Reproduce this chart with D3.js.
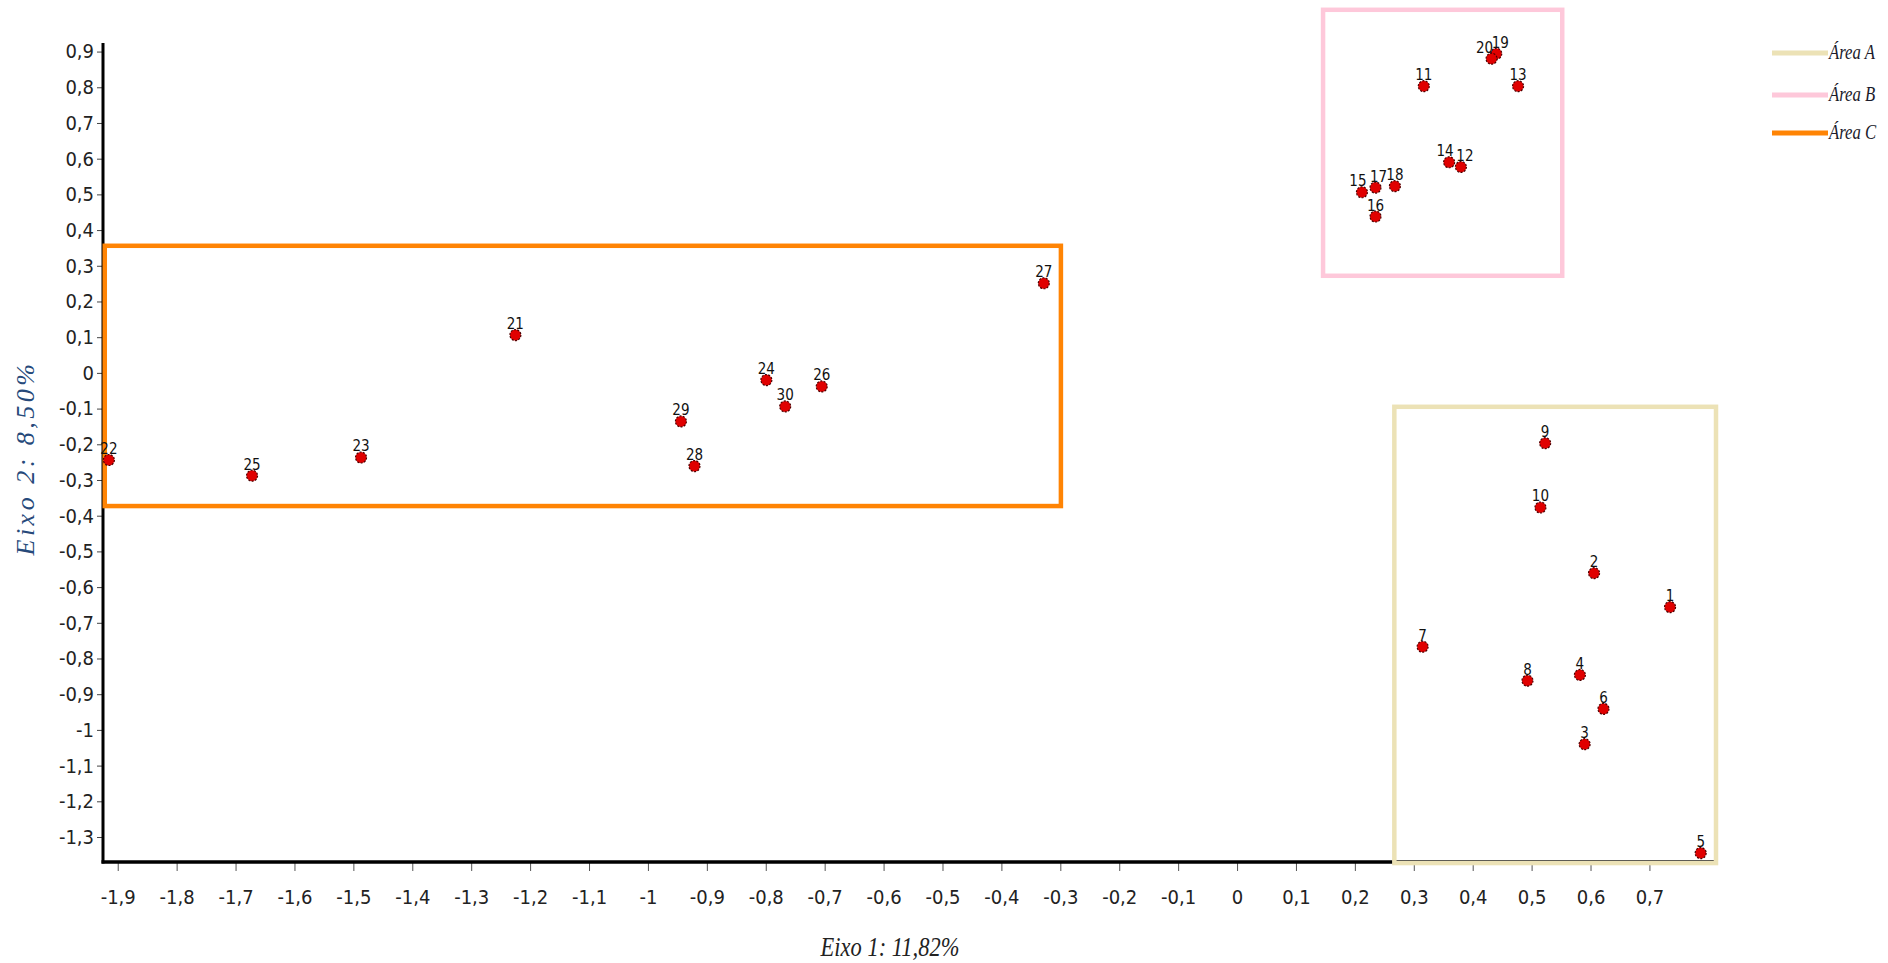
<!DOCTYPE html>
<html>
<head>
<meta charset="utf-8">
<script src="https://cdn.jsdelivr.net/npm/d3@7"></script>
<style>
  html, body { margin: 0; padding: 0; background: #fff; }
  svg { display: block; }
  .narrow { font-family: "Liberation Sans Narrow", "Arial Narrow", "DejaVu Sans Condensed", sans-serif; }
  .serif { font-family: "Liberation Serif", "Times New Roman", serif; font-style: italic; }
</style>
</head>
<body>
<svg id="chart" width="1888" height="963"></svg>
<script>
// ---- DATA ----
const pointIds = [1,2,3,4,5,6,7,8,9,10,11,12,13,14,15,16,17,18,19,20,21,22,23,24,25,26,27,28,29,30];
const eixo1 = [0.735,0.606,0.590,0.582,0.787,0.622,0.315,0.493,0.523,0.515,
               0.317,0.380,0.477,0.360,0.212,0.235,0.235,0.268,0.440,0.432,
               -1.225,-1.915,-1.487,-0.799,-1.672,-0.705,-0.328,-0.921,-0.944,-0.767];
const eixo2 = [-0.656,-0.561,-1.040,-0.846,-1.345,-0.941,-0.767,-0.862,-0.197,-0.377,
               0.803,0.577,0.803,0.590,0.506,0.438,0.519,0.523,0.894,0.880,
               0.106,-0.244,-0.237,-0.020,-0.288,-0.038,0.251,-0.261,-0.136,-0.094];

const areaNames  = ["Área A", "Área B", "Área C"];
const areaLeft   = [0.267, 0.146, -1.922];
const areaRight  = [0.813, 0.552, -0.299];
const areaTop    = [-0.095, 1.017, 0.356];
const areaBottom = [-1.373, 0.272, -0.373];
const areaColors = ["#ece2b6", "#fec8da", "#ff8404"];

const xTicks = [-1.9,-1.8,-1.7,-1.6,-1.5,-1.4,-1.3,-1.2,-1.1,-1,-0.9,-0.8,-0.7,-0.6,-0.5,-0.4,-0.3,-0.2,-0.1,0,0.1,0.2,0.3,0.4,0.5,0.6,0.7];
const yTicks = [0.9,0.8,0.7,0.6,0.5,0.4,0.3,0.2,0.1,0,-0.1,-0.2,-0.3,-0.4,-0.5,-0.6,-0.7,-0.8,-0.9,-1,-1.1,-1.2,-1.3];

const xTitle = "Eixo 1: 11,82%";
const yTitle = "Eixo 2: 8,50%";

// label nudges (style only) to keep crowded labels readable
const labelNudge = {20: -7, 19: 4, 14: -4, 12: 4, 15: -4, 17: 3};

// ---- CHART ----
const svg = d3.select("#chart");
const x = d3.scaleLinear().domain([-1.925, 0.813]).range([103, 1716]);
const y = d3.scaleLinear().domain([0.924, -1.370]).range([43, 862]);

const locale = d3.formatLocale({decimal: ",", thousands: ".", grouping: [3], currency: ["", ""], minus: "-"});
const fmt = locale.format(".1~f");

// Y axis
const gy = svg.append("g").attr("transform", `translate(${x.range()[0]},0)`)
  .call(d3.axisLeft(y).tickValues(yTicks).tickSize(6).tickPadding(3).tickFormat(fmt));
gy.select(".domain").remove();
gy.selectAll(".tick line").attr("stroke", "#444");
gy.selectAll(".tick text").attr("class", "narrow").attr("font-size", 20).attr("fill", "#222");
svg.append("line")
  .attr("x1", x.range()[0]).attr("x2", x.range()[0])
  .attr("y1", y.range()[0]).attr("y2", y.range()[1] + 1.5)
  .attr("stroke", "#000").attr("stroke-width", 3);

// X axis
const gx = svg.append("g").attr("transform", `translate(0,${y.range()[1]})`)
  .call(d3.axisBottom(x).tickValues(xTicks).tickSize(9).tickPadding(19).tickFormat(fmt));
gx.select(".domain").remove();
gx.selectAll(".tick line").attr("stroke", "#555");
gx.selectAll(".tick text").attr("class", "narrow").attr("font-size", 20).attr("fill", "#222");
svg.append("line")
  .attr("x1", x.range()[0] - 1.5).attr("x2", x.range()[1])
  .attr("y1", y.range()[1]).attr("y2", y.range()[1])
  .attr("stroke", "#000").attr("stroke-width", 3.5);

// Axis titles
svg.append("text").attr("class", "serif")
  .attr("transform", "translate(890,956) scale(0.9,1.1)")
  .attr("text-anchor", "middle")
  .attr("font-size", 25).attr("fill", "#222").text(xTitle);
svg.append("text").attr("class", "serif")
  .attr("transform", "translate(34,458) rotate(-90)")
  .attr("text-anchor", "middle").attr("font-size", 26)
  .attr("letter-spacing", 3.5).attr("fill", "#26497a").text(yTitle);

// Area boxes
const areas = areaNames.map((n, i) => ({name: n, x0: areaLeft[i], x1: areaRight[i], y0: areaTop[i], y1: areaBottom[i], c: areaColors[i]}));
svg.append("g").selectAll("rect").data(areas).join("rect")
  .attr("x", d => x(d.x0)).attr("y", d => y(d.y0))
  .attr("width", d => x(d.x1) - x(d.x0)).attr("height", d => y(d.y1) - y(d.y0))
  .attr("fill", "none").attr("stroke", d => d.c).attr("stroke-width", 4.5);

// Points
const pts = pointIds.map((id, i) => ({id, a: eixo1[i], b: eixo2[i]}));
svg.append("g").selectAll("circle").data(pts).join("circle")
  .attr("cx", d => x(d.a)).attr("cy", d => y(d.b)).attr("r", 5.5)
  .attr("fill", "#e00000").attr("stroke", "#4a0000").attr("stroke-width", 1.2)
  .attr("stroke-dasharray", "2,1.4");
svg.append("g").selectAll("text").data(pts).join("text")
  .attr("class", "narrow")
  .attr("x", d => x(d.a) + (labelNudge[d.id] || 0)).attr("y", d => y(d.b) - 6)
  .attr("text-anchor", "middle").attr("font-size", 15).attr("fill", "#111")
  .text(d => d.id);

// Legend
const legY = [53, 95, 133];
const lg = svg.append("g");
areas.forEach((d, i) => {
  lg.append("line").attr("x1", 1772).attr("x2", 1828).attr("y1", legY[i]).attr("y2", legY[i])
    .attr("stroke", d.c).attr("stroke-width", 5);
  lg.append("text").attr("class", "serif")
    .attr("transform", `translate(1829,${legY[i] + 6}) scale(0.88,1.15)`)
    .attr("font-size", 19).attr("fill", "#1a1a2a").text(d.name);
});
</script>
</body>
</html>
